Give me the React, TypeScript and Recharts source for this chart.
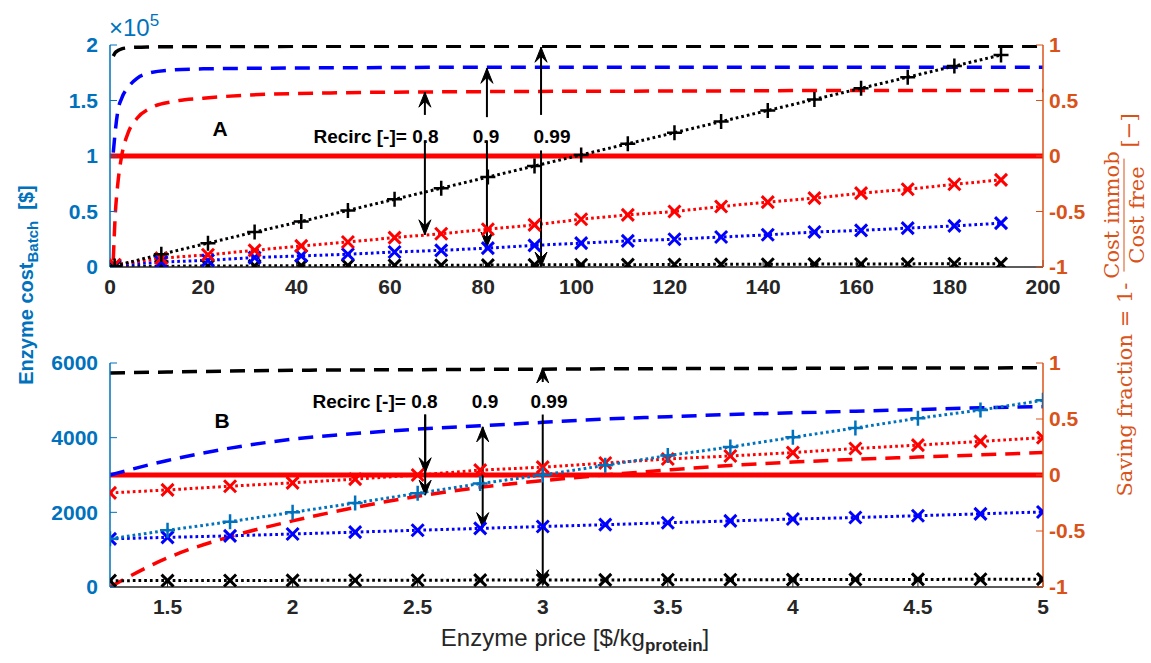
import React from "react";
import { LineChart, Line, XAxis, YAxis, ReferenceLine } from "recharts";

const AX_BLUE = "#0072BD";
const AX_ORANGE = "#D95319";
const INK = "#262626";

// Panel A: enzyme price 0-200 $/kg
const priceA = [1, 11, 21, 31, 41, 51, 61, 71, 81, 91, 101, 111, 121, 131, 141, 151, 161, 171, 181, 191];
const costFreeA = [1000, 11500, 21500, 31500, 41000, 51000, 61000, 71000, 81000, 91000, 101000, 111000, 121000, 131000, 141000, 151000, 161000, 171000, 181000, 191000];
const costR08A = [2000, 8000, 11000, 15000, 19000, 22500, 26500, 30000, 34000, 38000, 43000, 47000, 50000, 54500, 58500, 62000, 66500, 70000, 74500, 78500];
const costR09A = [1500, 4500, 6000, 8500, 10000, 11500, 13500, 15000, 17000, 19500, 21500, 23500, 25000, 27000, 29000, 31500, 33000, 35000, 37000, 39500];
const costR099A = [500, 700, 900, 1000, 1200, 1300, 1500, 1600, 1700, 1900, 2000, 2100, 2200, 2400, 2500, 2600, 2700, 2800, 2900, 3000];

const priceDenseA = [0.7, 1.1, 1.7, 2.5, 3.9, 5.8, 8.6, 13.5, 20, 30, 50, 80, 120, 160, 200];
const saveR08A = [-0.94, -0.55, -0.24, 0.0, 0.21, 0.34, 0.43, 0.49, 0.52, 0.55, 0.57, 0.58, 0.585, 0.59, 0.59];
const saveR09A = [0.03, 0.21, 0.41, 0.52, 0.62, 0.7, 0.75, 0.775, 0.785, 0.79, 0.795, 0.8, 0.8, 0.8, 0.8];
const saveR099A = [0.9, 0.93, 0.95, 0.965, 0.975, 0.98, 0.983, 0.985, 0.986, 0.987, 0.988, 0.988, 0.988, 0.988, 0.988];

// Panel B: enzyme price 1.27-5 $/kg
const priceB = [1.27, 1.5, 1.75, 2, 2.25, 2.5, 2.75, 3, 3.25, 3.5, 3.75, 4, 4.25, 4.5, 4.75, 5];
const costFreeB = [1290, 1520, 1750, 2000, 2250, 2510, 2770, 3000, 3260, 3520, 3750, 4010, 4260, 4520, 4740, 5000];
const costR08B = [2520, 2600, 2700, 2790, 2890, 3000, 3130, 3210, 3320, 3430, 3510, 3600, 3710, 3800, 3900, 4000];
const costR09B = [1290, 1330, 1370, 1420, 1470, 1520, 1570, 1620, 1670, 1720, 1770, 1820, 1860, 1910, 1960, 2010];
const costR099B = [170, 172, 175, 178, 180, 182, 185, 188, 190, 193, 195, 198, 200, 203, 206, 210];
const saveR08B = [-1.0, -0.74, -0.55, -0.41, -0.29, -0.19, -0.11, -0.05, 0.0, 0.045, 0.085, 0.115, 0.14, 0.16, 0.18, 0.2];
const saveR09B = [0.0, 0.13, 0.24, 0.32, 0.37, 0.41, 0.44, 0.47, 0.5, 0.52, 0.54, 0.555, 0.57, 0.585, 0.6, 0.61];
const saveR099B = [0.91, 0.92, 0.928, 0.935, 0.938, 0.94, 0.943, 0.945, 0.948, 0.95, 0.951, 0.952, 0.954, 0.955, 0.956, 0.957];

const ticksA = [0, 20, 40, 60, 80, 100, 120, 140, 160, 180, 200];
const ticksB = [1.5, 2, 2.5, 3, 3.5, 4, 4.5, 5];
const costTicksA = [0, 50000, 100000, 150000, 200000];
const costTicksB = [0, 2000, 4000, 6000];
const saveTicks = [-1, -0.5, 0, 0.5, 1];

const zip = (xs: number[], ys: number[]) => xs.map((x, i) => ({ x, y: ys[i] }));

const plusDot = (color: string) => (p: any) => {
  if (p.cx == null || p.cy == null) return <g key={`n${p.index}`} />;
  return (
    <path
      key={`p${p.index}`}
      d={`M${p.cx - 7.5},${p.cy}h15M${p.cx},${p.cy - 7.5}v15`}
      stroke={color}
      strokeWidth={2.5}
      fill="none"
    />
  );
};

const crossDot = (color: string) => (p: any) => {
  if (p.cx == null || p.cy == null) return <g key={`n${p.index}`} />;
  return (
    <path
      key={`c${p.index}`}
      d={`M${p.cx - 6},${p.cy - 6}l12,12M${p.cx - 6},${p.cy + 6}l12,-12`}
      stroke={color}
      strokeWidth={3}
      fill="none"
    />
  );
};

const arrowHead = (x: number, y: number, dir: number) => {
  const len = 15;
  const half = 6;
  return (
    <path
      d={`M${x},${y}L${x - half},${y - dir * len}L${x},${y - dir * 9}L${x + half},${y - dir * len}Z`}
      fill="#000"
      stroke="#000"
      strokeWidth={1}
    />
  );
};

const arrowShape = (both: boolean) => (p: any) => {
  const { x1, y1, x2, y2 } = p;
  const dir = y2 > y1 ? 1 : -1;
  return (
    <g>
      <line x1={x1} y1={y1} x2={x2} y2={y2} stroke="#000" strokeWidth={2} />
      {arrowHead(x2, y2, dir)}
      {both ? arrowHead(x1, y1, -dir) : null}
    </g>
  );
};

const tickFont = { fontSize: 21, fontWeight: 700, fontFamily: "Liberation Sans, Arial, sans-serif" };

const dashed = { strokeWidth: 3.5, strokeDasharray: "15 9" };
const dotted = { strokeWidth: 3, strokeDasharray: "2.7 3" };

type Arrow = { x: number; from: number; to: number; both?: boolean };

const arrowsA: Arrow[] = [
  { x: 67.5, from: 0.37, to: 0.575 },
  { x: 67.5, from: 0.14, to: -0.71 },
  { x: 80.8, from: 0.35, to: 0.79 },
  { x: 80.8, from: 0.14, to: -0.82 },
  { x: 92.4, from: 0.37, to: 0.98 },
  { x: 92.4, from: 0.05, to: -1.0 },
];

const arrowsB: Arrow[] = [
  { x: 2.53, from: 0.54, to: 0.02 },
  { x: 2.53, from: 0.54, to: -0.18 },
  { x: 2.76, from: 0.43, to: -0.47, both: true },
  { x: 3.0, from: 0.83, to: 0.955 },
  { x: 3.0, from: 0.54, to: -0.98 },
];

interface PanelProps {
  height: number;
  top: number;
  bottom: number;
  xDomain: [number, number];
  xTicks: number[];
  costDomain: [number, number];
  costTicks: number[];
  costFormat?: (v: number) => string;
  arrows: Arrow[];
  children: React.ReactNode;
}

function Panel(props: PanelProps) {
  const { height, top, bottom, xDomain, xTicks, costDomain, costTicks, costFormat, arrows, children } = props;
  return (
    <LineChart width={1151} height={height} margin={{ top, right: 48, bottom, left: 50 }}>
      <XAxis
        xAxisId={0}
        type="number"
        dataKey="x"
        domain={xDomain}
        ticks={xTicks}
        allowDataOverflow
        height={30}
        tickSize={-7}
        tickMargin={19}
        stroke={INK}
        axisLine={{ stroke: INK, strokeWidth: 1.5 }}
        tickLine={{ stroke: INK }}
        tick={{ ...tickFont, fill: INK }}
      />
      <XAxis
        xAxisId="top"
        orientation="top"
        type="number"
        domain={xDomain}
        ticks={xTicks}
        allowDataOverflow
        height={0}
        tickSize={-7}
        tick={false}
        axisLine={{ stroke: INK, strokeWidth: 1.5 }}
        tickLine={{ stroke: INK }}
      />
      <YAxis
        yAxisId="left"
        type="number"
        domain={costDomain}
        ticks={costTicks}
        allowDataOverflow
        width={60}
        tickSize={-7}
        tickMargin={19}
        tickFormatter={costFormat}
        axisLine={{ stroke: AX_BLUE, strokeWidth: 1.5 }}
        tickLine={{ stroke: AX_BLUE }}
        tick={{ ...tickFont, fill: AX_BLUE }}
      />
      <YAxis
        yAxisId="right"
        orientation="right"
        type="number"
        domain={[-1, 1]}
        ticks={saveTicks}
        allowDataOverflow
        width={60}
        tickSize={-7}
        tickMargin={13}
        axisLine={{ stroke: AX_ORANGE, strokeWidth: 1.5 }}
        tickLine={{ stroke: AX_ORANGE }}
        tick={{ ...tickFont, fill: AX_ORANGE }}
      />
      <ReferenceLine yAxisId="right" y={0} stroke="#FF0000" strokeWidth={5} />
      {children}
      {arrows.map((a, i) => (
        <ReferenceLine
          key={`arrow-${i}`}
          yAxisId="right"
          segment={[
            { x: a.x, y: a.from },
            { x: a.x, y: a.to },
          ]}
          shape={arrowShape(!!a.both)}
        />
      ))}
    </LineChart>
  );
}

const boldText: React.CSSProperties = {
  position: "absolute",
  fontFamily: "Liberation Sans, Arial, sans-serif",
  fontWeight: 700,
  color: "#000",
  whiteSpace: "nowrap",
  transform: "translate(-50%, -50%)",
};

export default function App() {
  return (
    <div style={{ position: "absolute", left: 0, top: 0, width: 1151, height: 663, background: "#fff", overflow: "hidden" }}>
      <div style={{ position: "absolute", left: 0, top: 0 }}>
        <Panel
          height={310}
          top={45}
          bottom={13}
          xDomain={[0, 200]}
          xTicks={ticksA}
          costDomain={[0, 200000]}
          costTicks={costTicksA}
          costFormat={(v: number) => String(v / 100000)}
          arrows={arrowsA}
        >
          <Line yAxisId="right" type="monotone" data={zip(priceDenseA, saveR099A)} dataKey="y" stroke="#000" {...dashed} dot={false} activeDot={false} isAnimationActive={false} />
          <Line yAxisId="right" type="monotone" data={zip(priceDenseA, saveR09A)} dataKey="y" stroke="#0000FF" {...dashed} dot={false} activeDot={false} isAnimationActive={false} />
          <Line yAxisId="right" type="monotone" data={zip(priceDenseA, saveR08A)} dataKey="y" stroke="#FF0000" {...dashed} dot={false} activeDot={false} isAnimationActive={false} />
          <Line yAxisId="left" data={zip(priceA, costR099A)} dataKey="y" stroke="#000" {...dotted} dot={crossDot("#000")} activeDot={false} isAnimationActive={false} />
          <Line yAxisId="left" data={zip(priceA, costR09A)} dataKey="y" stroke="#0000FF" {...dotted} dot={crossDot("#0000FF")} activeDot={false} isAnimationActive={false} />
          <Line yAxisId="left" data={zip(priceA, costR08A)} dataKey="y" stroke="#FF0000" {...dotted} dot={crossDot("#FF0000")} activeDot={false} isAnimationActive={false} />
          <Line yAxisId="left" data={zip(priceA, costFreeA)} dataKey="y" stroke="#000" {...dotted} dot={plusDot("#000")} activeDot={false} isAnimationActive={false} />
        </Panel>
      </div>
      <div style={{ position: "absolute", left: 0, top: 310 }}>
        <Panel
          height={353}
          top={53}
          bottom={46}
          xDomain={[1.27, 5]}
          xTicks={ticksB}
          costDomain={[0, 6000]}
          costTicks={costTicksB}
          arrows={arrowsB}
        >
          <Line yAxisId="right" type="monotone" data={zip(priceB, saveR099B)} dataKey="y" stroke="#000" {...dashed} dot={false} activeDot={false} isAnimationActive={false} />
          <Line yAxisId="right" type="monotone" data={zip(priceB, saveR09B)} dataKey="y" stroke="#0000FF" {...dashed} dot={false} activeDot={false} isAnimationActive={false} />
          <Line yAxisId="right" type="monotone" data={zip(priceB, saveR08B)} dataKey="y" stroke="#FF0000" {...dashed} dot={false} activeDot={false} isAnimationActive={false} />
          <Line yAxisId="left" data={zip(priceB, costR099B)} dataKey="y" stroke="#000" {...dotted} dot={crossDot("#000")} activeDot={false} isAnimationActive={false} />
          <Line yAxisId="left" data={zip(priceB, costR09B)} dataKey="y" stroke="#0000FF" {...dotted} dot={crossDot("#0000FF")} activeDot={false} isAnimationActive={false} />
          <Line yAxisId="left" data={zip(priceB, costR08B)} dataKey="y" stroke="#FF0000" {...dotted} dot={crossDot("#FF0000")} activeDot={false} isAnimationActive={false} />
          <Line yAxisId="left" data={zip(priceB, costFreeB)} dataKey="y" stroke={AX_BLUE} {...dotted} dot={plusDot(AX_BLUE)} activeDot={false} isAnimationActive={false} />
        </Panel>
      </div>

      {/* exponent of the top-left axis */}
      <div style={{ position: "absolute", left: 109, top: 11, color: AX_BLUE, fontFamily: "Liberation Sans, Arial, sans-serif", fontSize: 24, whiteSpace: "nowrap" }}>
        ×10<sup style={{ fontSize: 17, verticalAlign: 10 }}>5</sup>
      </div>

      {/* panel annotations */}
      <div style={{ ...boldText, left: 220, top: 129, fontSize: 21 }}>A</div>
      <div style={{ ...boldText, left: 376, top: 137, fontSize: 19 }}>Recirc [-]= 0.8</div>
      <div style={{ ...boldText, left: 486, top: 137, fontSize: 19 }}>0.9</div>
      <div style={{ ...boldText, left: 552, top: 137, fontSize: 19 }}>0.99</div>

      <div style={{ ...boldText, left: 222, top: 421, fontSize: 21 }}>B</div>
      <div style={{ ...boldText, left: 375, top: 402, fontSize: 19 }}>Recirc [-]= 0.8</div>
      <div style={{ ...boldText, left: 485, top: 402, fontSize: 19 }}>0.9</div>
      <div style={{ ...boldText, left: 549, top: 402, fontSize: 19 }}>0.99</div>

      {/* left axis title */}
      <div
        style={{
          position: "absolute",
          left: 28,
          top: 285,
          transform: "translate(-50%, -50%) rotate(-90deg)",
          color: AX_BLUE,
          fontFamily: "Liberation Sans, Arial, sans-serif",
          fontWeight: 700,
          fontSize: 20,
          whiteSpace: "nowrap",
        }}
      >
        Enzyme cost<sub style={{ fontSize: 15 }}>Batch</sub>&nbsp;&nbsp;[$]
      </div>

      {/* right axis title */}
      <div
        style={{
          position: "absolute",
          left: 1124,
          top: 305,
          transform: "translate(-50%, -50%) rotate(-90deg)",
          color: AX_ORANGE,
          fontFamily: "DejaVu Serif, serif",
          fontSize: 21,
          whiteSpace: "nowrap",
          display: "flex",
          alignItems: "center",
        }}
      >
        <span>Saving fraction = 1-</span>
        <span style={{ display: "inline-flex", flexDirection: "column", alignItems: "center", margin: "0 2px" }}>
          <span style={{ padding: "0 2px" }}>Cost immob</span>
          <span style={{ borderTop: `1.5px solid ${AX_ORANGE}`, padding: "0 8px" }}>Cost free</span>
        </span>
        <span style={{ position: "relative", top: 4 }}>[−]</span>
      </div>

      {/* x axis title */}
      <div
        style={{
          position: "absolute",
          left: 575,
          top: 640,
          transform: "translate(-50%, -50%)",
          color: INK,
          fontFamily: "Liberation Sans, Arial, sans-serif",
          fontSize: 24,
          whiteSpace: "nowrap",
        }}
      >
        Enzyme price [$/kg<sub style={{ fontSize: 17, fontWeight: 700 }}>protein</sub>]
      </div>
    </div>
  );
}
